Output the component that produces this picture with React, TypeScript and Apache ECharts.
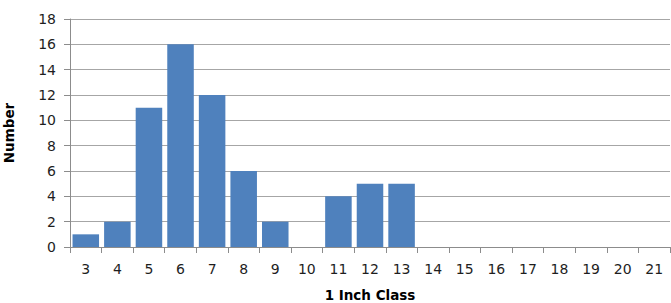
import React, { useEffect, useRef } from "react";
import * as echarts from "echarts";

const categories = ["3","4","5","6","7","8","9","10","11","12","13","14","15","16","17","18","19","20","21"];
const counts = [1, 2, 11, 16, 12, 6, 2, 0, 4, 5, 5, 0, 0, 0, 0, 0, 0, 0, 0];
const yTicks = { min: 0, max: 18, interval: 2 };

const FONT = "'DejaVu Sans', 'Open Sans', sans-serif";

export default function App() {
  const ref = useRef<HTMLDivElement>(null);
  useEffect(() => {
    const chart = echarts.init(ref.current!, null, { renderer: "svg" });
    chart.setOption({
      animation: false,
      backgroundColor: "#ffffff",
      grid: { left: 70, right: 1, top: 19, bottom: 56, containLabel: false, outerBoundsMode: "none" },
      xAxis: {
        type: "category",
        data: categories,
        name: "1 Inch Class",
        nameLocation: "middle",
        nameGap: 41,
        nameTextStyle: { fontFamily: FONT, fontWeight: "bold", fontSize: 13.5, color: "#000", lineHeight: 14 },
        axisLine: { lineStyle: { color: "#8c8c8c", width: 1 } },
        axisTick: { show: true, length: 6, alignWithLabel: false, lineStyle: { color: "#8c8c8c" } },
        axisLabel: { fontFamily: FONT, fontSize: 14, color: "#1e1e1e", margin: 15 },
      },
      yAxis: {
        type: "value",
        min: yTicks.min,
        max: yTicks.max,
        interval: yTicks.interval,
        name: "Number",
        nameLocation: "middle",
        nameGap: 54,
        nameRotate: 90,
        nameTextStyle: { fontFamily: FONT, fontWeight: "bold", fontSize: 13.5, color: "#000" },
        axisLine: { show: true, lineStyle: { color: "#8c8c8c", width: 1 } },
        axisTick: { show: true, length: 6, lineStyle: { color: "#8c8c8c" } },
        axisLabel: { fontFamily: FONT, fontSize: 14, color: "#1e1e1e", margin: 14 },
        splitLine: { show: true, lineStyle: { color: "#a6a6a6", width: 1 } },
      },
      series: [
        {
          type: "bar",
          data: counts,
          barCategoryGap: "16%",
          itemStyle: { color: "#4f81bd", borderWidth: 0 },
        },
      ],
    });
    return () => chart.dispose();
  }, []);
  return <div ref={ref} style={{ width: 671, height: 303, position: "absolute", left: 0, top: 0 }} />;
}
